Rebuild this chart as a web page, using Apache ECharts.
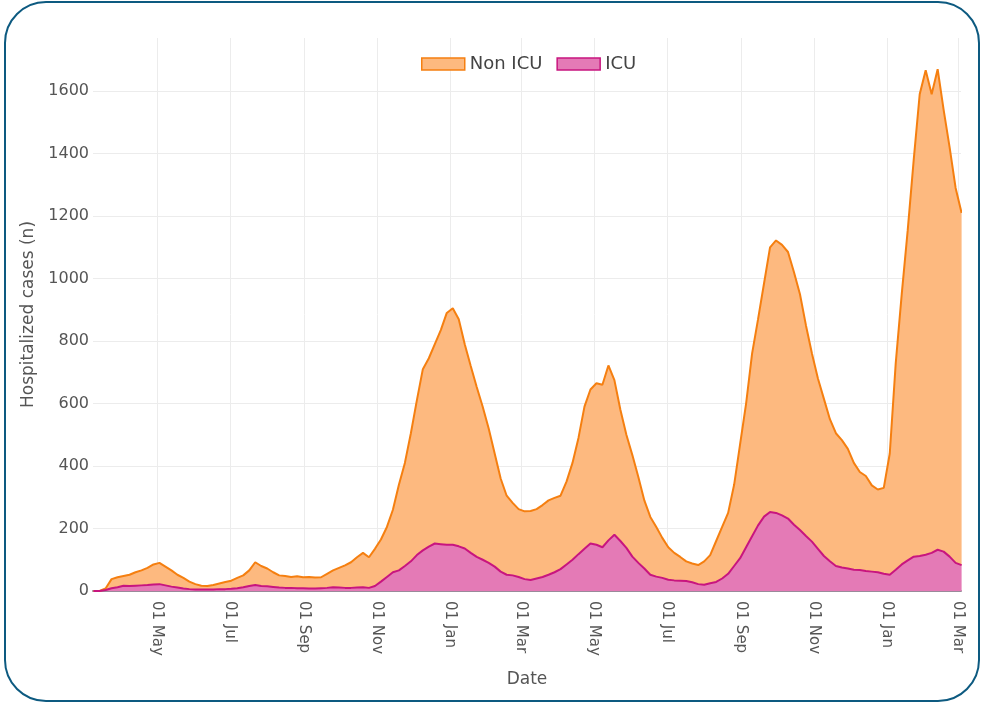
<!DOCTYPE html>
<html>
<head>
<meta charset="utf-8">
<script src="https://cdn.jsdelivr.net/npm/echarts@6/dist/echarts.min.js"></script>
<style>
  html, body { margin: 0; padding: 0; background: #fff; }
  #frame {
    position: absolute; left: 4px; top: 1px; width: 972px; height: 697px;
    border: 2.5px solid #0d5a80; border-radius: 42px;
  }
  #main { position: absolute; left: 0; top: 0; width: 984px; height: 704px; }
</style>
</head>
<body>
<div id="frame"></div>
<div id="main"></div>
<script>
  // one point every 5 days, from 09 Mar 2020
  var startDate = [2020, 2, 9];
  var stepDays = 5;

  // ICU patients (n)
  var icu = [
    0, 0, 3, 9, 12, 17, 16, 17, 18, 19,
    21, 22, 18, 14, 11, 8, 6, 5, 5, 5,
    5, 6, 6, 7, 9, 12, 16, 19, 16, 15,
    13, 11, 10, 10, 9, 9, 8, 8, 9, 10,
    12, 11, 10, 10, 11, 12, 10, 16, 30, 45,
    60, 66, 80, 95, 115, 130, 142, 152, 150, 148,
    148, 143, 136, 122, 109, 100, 90, 78, 62, 52,
    50, 45, 38, 35, 40, 45, 52, 60, 70, 85,
    100, 118, 135, 152, 148, 140, 162, 180, 160, 138,
    110, 90, 72, 52, 46, 42, 36, 34, 33, 32,
    28, 22, 20, 25, 29, 40, 55, 80, 105, 140,
    175, 210, 238, 253, 250, 242, 232, 212, 195, 176,
    158, 135, 112, 95, 80, 75, 72, 68, 67, 64,
    62, 60, 55, 52, 68, 85, 98, 110, 112, 116,
    122, 132, 126, 110, 90, 83
  ];

  // Non ICU patients (n), stacked on ICU
  var nonIcu = [
    0, 0, 5, 29, 32, 31, 36, 43, 48, 55,
    64, 68, 60, 52, 41, 34, 24, 17, 12, 11,
    14, 18, 23, 26, 33, 38, 50, 73, 64, 57,
    47, 39, 38, 35, 38, 35, 37, 35, 35, 45,
    54, 63, 72, 82, 97, 110, 98, 119, 135, 160,
    200, 274, 330, 410, 495, 580, 603, 638, 685, 742,
    757, 727, 654, 598, 544, 490, 430, 362, 298, 253,
    232, 217, 217, 221, 222, 230, 238, 238, 235, 265,
    310, 372, 455, 493, 517, 520, 560, 495, 420, 362,
    325, 275, 218, 185, 159, 128, 104, 88, 76, 63,
    60, 61, 75, 90, 131, 165, 195, 260, 365, 460,
    585, 660, 747, 847, 872, 866, 853, 808, 755, 674,
    602, 545, 503, 455, 425, 408, 383, 342, 314, 304,
    276, 265, 275, 388, 662, 865, 1057, 1270, 1478, 1551,
    1468, 1538, 1414, 1310, 1200, 1127
  ];

  var yTicks = [0, 200, 400, 600, 800, 1000, 1200, 1400, 1600];

  var dates = [];
  for (var i = 0; i < icu.length; i++) {
    dates.push(new Date(startDate[0], startDate[1], startDate[2] + stepDays * i).getTime());
  }
  function pairs(vals) {
    return vals.map(function (v, i) { return [dates[i], v]; });
  }

  var font = 'DejaVu Sans, Verdana, sans-serif';
  var myChart = echarts.init(document.getElementById('main'));
  var option = {
    animation: false,
    textStyle: { fontFamily: font },
    legend: {
      data: [
        { name: 'Non ICU', icon: 'rect', itemStyle: { color: '#fdb97f', borderColor: '#f57f10', borderWidth: 1.5 } },
        { name: 'ICU', icon: 'rect', itemStyle: { color: '#e47ab6', borderColor: '#c8157f', borderWidth: 1.5 } }
      ],
      top: 50,
      left: 416,
      itemWidth: 43,
      itemHeight: 12,
      itemGap: 14,
      textStyle: { fontSize: 18, color: '#444', fontFamily: font }
    },
    grid: { left: 93, right: 23, top: 38, bottom: 113 },
    xAxis: {
      type: 'time',
      min: new Date(2020, 2, 8, 12).getTime(),
      max: new Date(2022, 2, 3, 12).getTime(),
      splitNumber: 12,
      name: 'Date',
      nameLocation: 'middle',
      nameGap: 80,
      nameTextStyle: { fontSize: 17, color: '#555', fontFamily: font },
      axisLine: { show: true, onZero: true, lineStyle: { color: '#9a8a9a', width: 2 } },
      axisTick: { show: false },
      axisLabel: {
        rotate: -90,
        fontSize: 15,
        color: '#555',
        margin: 10,
        fontFamily: font,
        formatter: function (v) { return echarts.time.format(v, '{dd} {MMM}', false); }
      },
      splitLine: { show: true, showMinLine: false, showMaxLine: false, lineStyle: { color: '#ececec', width: 1 } }
    },
    yAxis: {
      type: 'value',
      min: 0,
      max: 1770,
      interval: 200,
      name: 'Hospitalized cases (n)',
      nameLocation: 'middle',
      nameGap: 47,
      nameTextStyle: { fontSize: 17, color: '#555', fontFamily: font },
      axisLine: { show: false },
      axisTick: { show: false },
      axisLabel: {
        fontSize: 16,
        color: '#555',
        margin: 4,
        showMaxLabel: false,
        fontFamily: font,
        formatter: function (v) { return yTicks.indexOf(v) >= 0 ? String(v) : ''; }
      },
      splitLine: { show: true, showMaxLine: false, lineStyle: { color: '#ececec', width: 1 } }
    },
    series: [
      {
        name: 'ICU',
        type: 'line',
        stack: 'hosp',
        data: pairs(icu),
        symbol: 'none',
        clip: true,
        color: '#c8157f',
        lineStyle: { color: '#c8157f', width: 2 },
        areaStyle: { color: '#e47ab6', opacity: 1 },
        z: 3
      },
      {
        name: 'Non ICU',
        type: 'line',
        stack: 'hosp',
        data: pairs(nonIcu),
        symbol: 'none',
        clip: true,
        color: '#f57f10',
        lineStyle: { color: '#f57f10', width: 2 },
        areaStyle: { color: '#fdb97f', opacity: 1 },
        z: 2
      }
    ]
  };
  myChart.setOption(option);
</script>
</body>
</html>
